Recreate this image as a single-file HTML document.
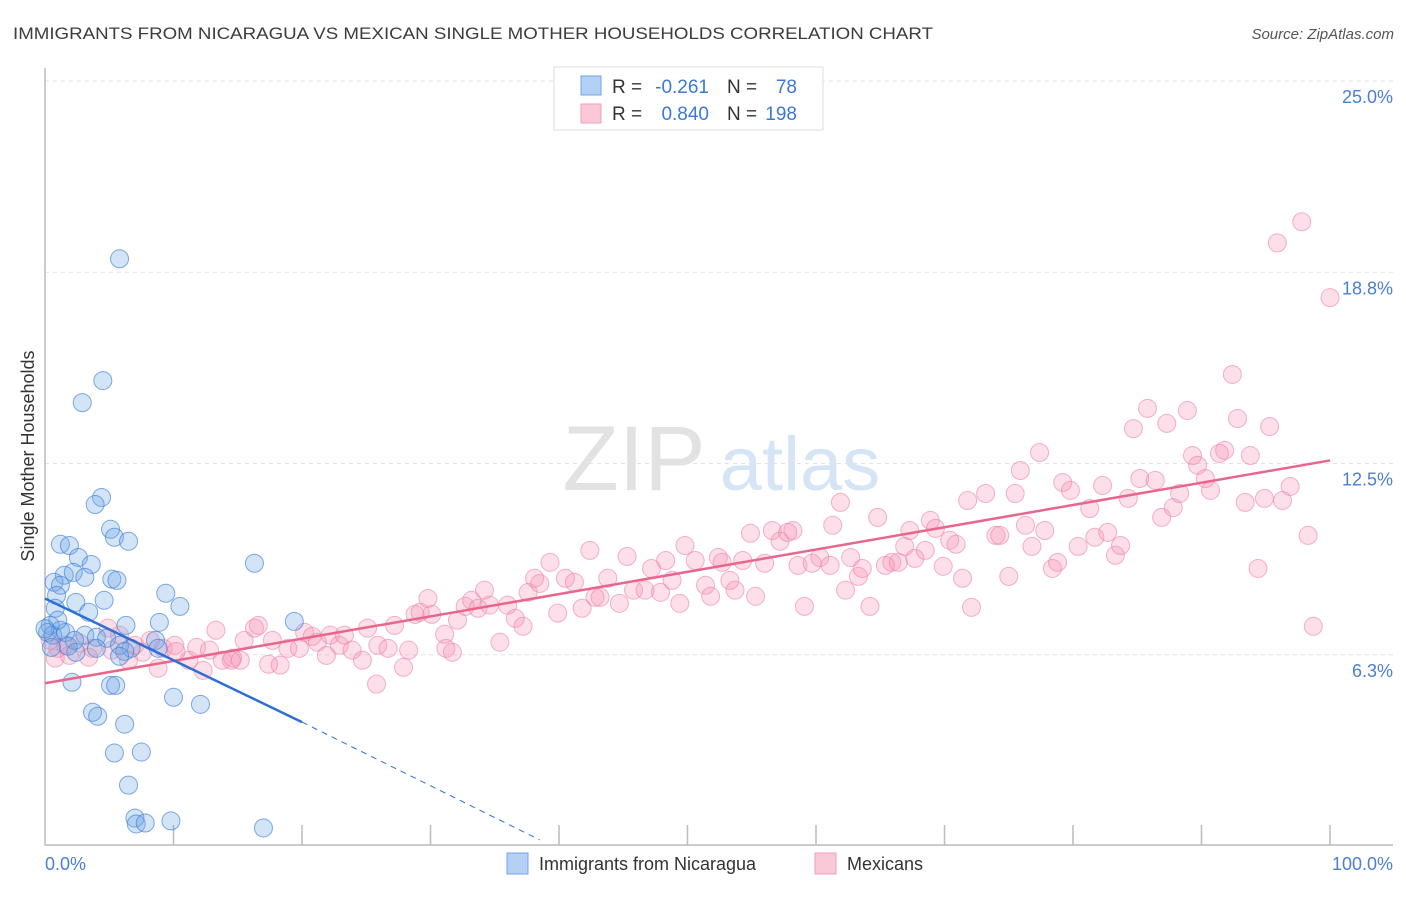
<!DOCTYPE html>
<html><head><meta charset="utf-8"><style>
body{margin:0;background:#fff;font-family:"Liberation Sans",sans-serif}
svg text{font-family:"Liberation Sans",sans-serif}
</style></head><body>
<svg id="chart" width="1406" height="892" viewBox="0 0 1406 892" xmlns="http://www.w3.org/2000/svg">
<text x="13" y="39" font-size="17" fill="#3c3c3c" textLength="920" lengthAdjust="spacingAndGlyphs">IMMIGRANTS FROM NICARAGUA VS MEXICAN SINGLE MOTHER HOUSEHOLDS CORRELATION CHART</text>
<text x="1394" y="39" font-size="15" font-style="italic" fill="#555" text-anchor="end">Source: ZipAtlas.com</text>
<g>
<text x="634" y="490" font-size="92" font-family="Liberation Serif" fill="#e2e2e2" text-anchor="middle">ZIP</text>
<text x="800" y="490" font-size="76" fill="#d6e5f5" text-anchor="middle">atlas</text>
</g>
<g id="grid"></g>
<g id="axes"></g>
<g id="pts"></g>
<g id="trends"></g>
<text transform="translate(34,456) rotate(-90)" font-size="18" fill="#333" text-anchor="middle">Single Mother Households</text>
<text x="45" y="870" font-size="18" fill="#4a7fd4">0.0%</text>
<text x="1393" y="870" font-size="18" fill="#4a7fd4" text-anchor="end">100.0%</text>
<g>
<rect x="554" y="67" width="269" height="63" fill="#fff" stroke="#ddd"/>
<rect x="581" y="76" width="20" height="19" fill="#b4d0f4" stroke="#6fa4e6"/>
<rect x="581" y="104" width="20" height="19" fill="#fac8d6" stroke="#f0a0b8"/>
<text x="612" y="93" font-size="19" fill="#333">R =</text>
<text x="709" y="93" font-size="19" fill="#3c78d8" text-anchor="end">-0.261</text>
<text x="727" y="93" font-size="19" fill="#333">N =</text>
<text x="797" y="93" font-size="19" fill="#3c78d8" text-anchor="end">78</text>
<text x="612" y="120" font-size="19" fill="#333">R =</text>
<text x="709" y="120" font-size="19" fill="#3c78d8" text-anchor="end">0.840</text>
<text x="727" y="120" font-size="19" fill="#333">N =</text>
<text x="797" y="120" font-size="19" fill="#3c78d8" text-anchor="end">198</text>
</g>
<g>
<rect x="507" y="853" width="21" height="21" fill="#b4d0f4" stroke="#6fa4e6"/>
<text x="539" y="870" font-size="18" fill="#333">Immigrants from Nicaragua</text>
<rect x="815" y="853" width="21" height="21" fill="#fac8d6" stroke="#f0a0b8"/>
<text x="847" y="870" font-size="18" fill="#333">Mexicans</text>
</g>
</svg>
<script>
const yTicks=[6.25,12.5,18.75,25];
const yTickLabels=["6.3%","12.5%","18.8%","25.0%"];
const xTicks=[10,20,30,40,50,60,70,80,90,100];
const blueX=[5.8,4.5,2.9,4.4,3.9,5.1,5.4,6.5,1.2,1.9,2.6,3.6,16.3,1.5,2.2,3.1,5.2,5.6,0.7,1.2,9.4,0.9,4.6,10.5,2.4,0.8,3.4,19.4,8.9,6.3,0.4,1.2,0.2,0.6,1.6,3.1,4.0,4.8,2.3,8.6,5.8,4.0,6.7,8.8,2.4,6.2,1.8,0.5,5.8,2.1,5.1,5.5,10.0,12.1,3.7,4.1,6.2,5.4,7.5,6.5,7.0,7.1,7.8,9.8,17.0,1.0,0.0];
const blueY=[19.19,15.21,14.49,11.39,11.16,10.35,10.09,9.96,9.86,9.82,9.43,9.2,9.24,8.85,8.94,8.78,8.72,8.68,8.62,8.52,8.26,8.19,8.03,7.83,7.96,7.77,7.64,7.34,7.31,7.21,7.21,7.05,6.98,6.89,6.98,6.89,6.82,6.79,6.72,6.72,6.56,6.46,6.46,6.46,6.33,6.36,6.53,6.49,6.2,5.35,5.25,5.25,4.86,4.63,4.37,4.24,3.98,3.04,3.07,1.99,0.91,0.72,0.75,0.82,0.59,7.38,7.1];
const pinkX=[0.8,1.0,0.4,1.6,2.7,3.7,4.9,5.2,6.5,7.0,7.6,8.8,9.2,10.1,11.2,11.8,12.3,12.8,13.3,13.8,14.6,15.2,15.5,16.3,16.6,17.4,17.7,18.3,18.9,19.8,20.2,20.8,21.2,21.9,22.2,22.9,23.3,23.9,24.7,25.1,25.8,25.9,26.7,27.2,27.9,28.3,28.8,29.2,29.8,30.1,31.2,31.1,31.7,32.1,32.7,33.2,33.7,34.2,34.6,35.4,36.0,36.6,37.2,37.6,38.1,38.5,39.3,39.9,40.5,41.2,41.8,42.4,42.8,43.2,43.8,44.7,45.3,45.8,46.7,47.2,47.9,48.3,48.8,49.4,49.8,50.6,51.4,51.8,52.4,52.7,53.3,53.7,54.3,54.9,55.3,56.0,56.6,57.2,57.8,58.2,58.6,59.1,59.7,60.3,61.1,61.3,61.9,62.3,62.7,63.3,63.6,64.2,64.8,65.4,65.9,66.4,66.9,67.3,67.7,68.5,68.9,69.3,69.9,70.4,70.9,71.4,71.8,72.1,73.2,74.0,74.3,75.0,75.5,75.9,76.3,76.8,77.4,77.8,78.4,78.8,79.2,79.8,80.4,81.3,81.7,82.3,82.7,83.3,83.7,84.3,84.7,85.2,85.8,86.4,86.9,87.3,87.8,88.3,88.9,89.3,89.7,90.3,90.7,91.4,91.8,92.4,92.8,93.4,93.8,94.4,94.9,95.3,95.9,96.3,96.9,97.8,98.3,98.7,100,1.9,3.4,5.8,8.2,10.2,14.5];
const pinkY=[6.14,6.46,6.72,6.56,6.63,6.46,7.12,6.4,6.07,6.56,6.33,5.81,6.46,6.56,6.07,6.49,5.74,6.4,7.05,6.07,6.14,6.07,6.72,7.12,7.21,5.94,6.72,5.91,6.46,6.46,6.98,6.85,6.66,6.23,6.89,6.56,6.89,6.4,6.07,7.12,5.29,6.56,6.46,7.21,5.84,6.4,7.57,7.64,8.09,7.57,6.46,6.92,6.33,7.38,7.83,8.03,7.77,8.36,7.87,6.66,7.87,7.44,7.18,8.29,8.75,8.58,9.27,7.61,8.75,8.62,7.77,9.66,8.13,8.13,8.75,7.93,9.46,8.36,8.36,9.07,8.29,9.33,8.68,7.93,9.82,9.33,8.52,8.16,9.43,9.27,8.68,8.36,9.33,10.22,8.16,9.24,10.31,9.96,10.25,10.31,9.17,7.83,9.24,9.43,9.17,10.48,11.23,8.36,9.43,8.81,9.07,7.83,10.74,9.17,9.27,9.27,9.79,10.31,9.4,9.66,10.64,10.38,9.14,9.99,9.86,8.75,11.29,7.8,11.52,10.15,10.15,8.81,11.52,12.27,10.48,9.79,12.86,10.31,9.07,9.27,11.88,11.62,9.79,11.03,10.09,11.78,10.25,9.5,9.82,11.36,13.64,12.01,14.3,11.95,10.74,13.81,11.06,11.52,14.23,12.76,12.44,12.01,11.62,12.83,12.93,15.41,13.97,11.23,12.76,9.07,11.36,13.71,19.71,11.29,11.75,20.4,10.15,7.18,17.92,6.23,6.17,6.89,6.72,6.36,6.07];
const blueTrendX=[0,20,38.5];
const blueTrendY=[8.09,4.05,0.2];
const pinkTrendX=[0,100];
const pinkTrendY=[5.32,12.6];
const NS="http://www.w3.org/2000/svg";
const X=v=>45+v*12.85;
const Y=v=>846-v*30.6;
function mk(t,a,p){const e=document.createElementNS(NS,t);for(const k in a)e.setAttribute(k,a[k]);p.appendChild(e);return e;}
const grid=document.getElementById('grid'),axes=document.getElementById('axes'),pts=document.getElementById('pts'),tr=document.getElementById('trends');
yTicks.forEach((v,i)=>{
 const l=mk('line',{x1:45,x2:1393,y1:Y(v),y2:Y(v),stroke:'#e2e2e2','stroke-dasharray':'4,4'},grid);
 
 
 const t=mk('text',{x:1393,y:Y(v)+22,'font-size':18,fill:'#4a7fd4','text-anchor':'end'},grid);
 t.textContent=yTickLabels[i];
 
 
});
const ax=mk('path',{d:'M45,68V845H1393',fill:'none',stroke:'#bbb','stroke-width':1.5},axes);


xTicks.forEach(v=>{
 const l=mk('line',{x1:X(v),x2:X(v),y1:825,y2:845,stroke:'#bbb','stroke-width':1.5},axes);
 
 
});
pinkX.forEach((x,i)=>{
 const c=mk('circle',{cx:X(x),cy:Y(pinkY[i]),r:9,fill:'rgba(244,150,178,0.3)',stroke:'rgba(236,130,165,0.6)','stroke-width':1},pts);
 
 
});
blueX.forEach((x,i)=>{
 const c=mk('circle',{cx:X(x),cy:Y(blueY[i]),r:9,fill:'rgba(110,165,230,0.3)',stroke:'rgba(60,125,215,0.65)','stroke-width':1},pts);
 
 
});
const pl=mk('line',{x1:X(pinkTrendX[0]),y1:Y(pinkTrendY[0]),x2:X(pinkTrendX[1]),y2:Y(pinkTrendY[1]),stroke:'#e8668e','stroke-width':2.5},tr);


const bl=mk('line',{x1:X(blueTrendX[0]),y1:Y(blueTrendY[0]),x2:X(blueTrendX[1]),y2:Y(blueTrendY[1]),stroke:'#2e6fd6','stroke-width':2.5},tr);


const bd=mk('line',{x1:X(blueTrendX[1]),y1:Y(blueTrendY[1]),x2:X(blueTrendX[2]),y2:Y(blueTrendY[2]),stroke:'#2e6fd6','stroke-width':1,'stroke-dasharray':'6,5'},tr);


</script>
</body></html>
